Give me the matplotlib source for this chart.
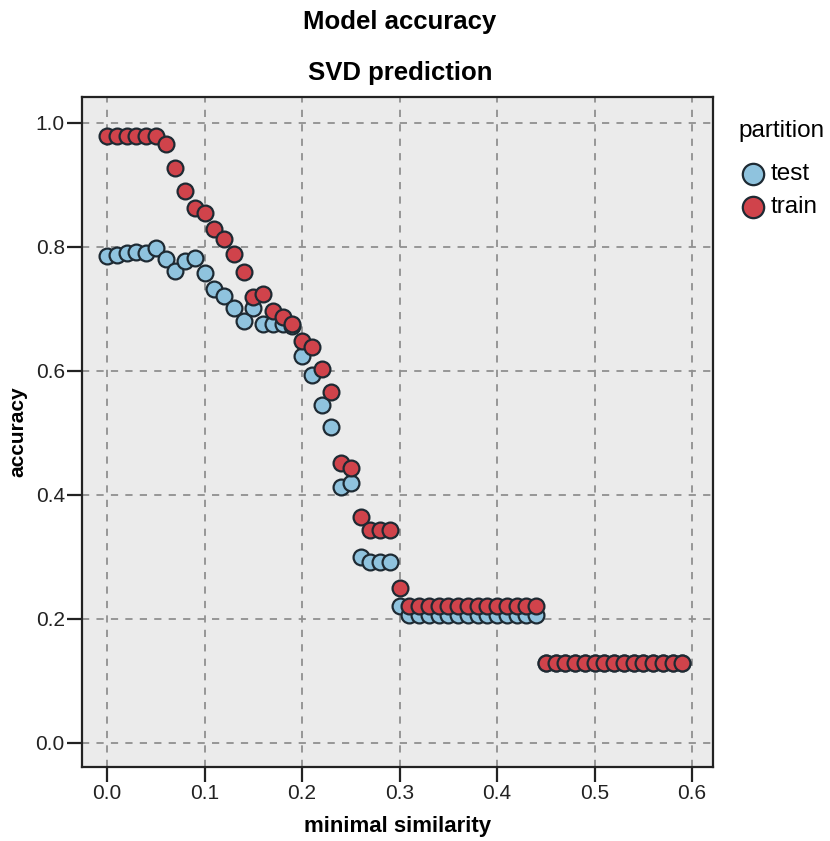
import numpy as np
import matplotlib
matplotlib.use("Agg")
from matplotlib import pyplot as plt

plt.rcParams['font.family'] = ['Liberation Sans', 'DejaVu Sans']

# minimal similarity threshold, steps of 0.01
sim = [round(i * 0.01, 2) for i in range(60)]

test_acc = [0.785, 0.787, 0.790, 0.792, 0.790, 0.798, 0.780, 0.761, 0.777, 0.782,
            0.757, 0.732, 0.721, 0.701, 0.681, 0.701, 0.676, 0.676, 0.676, 0.672,
            0.624, 0.594, 0.545, 0.510, 0.413, 0.419, 0.300, 0.292, 0.292, 0.292,
            0.221, 0.207, 0.207, 0.207, 0.207, 0.207, 0.207, 0.207, 0.207, 0.207,
            0.207, 0.207, 0.207, 0.207, 0.207,
            0.129, 0.129, 0.129, 0.129, 0.129, 0.129, 0.129, 0.129, 0.129, 0.129,
            0.129, 0.129, 0.129, 0.129, 0.129]

train_acc = [0.979, 0.979, 0.979, 0.979, 0.979, 0.979, 0.966, 0.927, 0.890, 0.863,
             0.855, 0.829, 0.813, 0.789, 0.760, 0.719, 0.724, 0.697, 0.687, 0.676,
             0.648, 0.639, 0.603, 0.566, 0.452, 0.444, 0.365, 0.344, 0.344, 0.344,
             0.250, 0.221, 0.221, 0.221, 0.221, 0.221, 0.221, 0.221, 0.221, 0.221,
             0.221, 0.221, 0.221, 0.221, 0.221,
             0.129, 0.129, 0.129, 0.129, 0.129, 0.129, 0.129, 0.129, 0.129, 0.129,
             0.129, 0.129, 0.129, 0.129, 0.129]

fig = plt.figure(figsize=(8.3, 8.41), dpi=100)
ax = fig.add_axes([0.099, 0.088, 0.760, 0.797])
ax.set_facecolor('#ebebeb')

edge = '#1e2a33'
ax.scatter(sim, test_acc, s=130, c='#8fc3de', edgecolors=edge, linewidths=1.6,
           label='test', zorder=3)
ax.scatter(sim, train_acc, s=130, c='#d0434b', edgecolors=edge, linewidths=1.6,
           label='train', zorder=4)

ax.set_xlim(-0.0256, 0.6215)
ax.set_ylim(-0.0387, 1.042)
ax.set_xticks([0.0, 0.1, 0.2, 0.3, 0.4, 0.5, 0.6])
ax.set_yticks([0.0, 0.2, 0.4, 0.6, 0.8, 1.0])
ax.set_xticklabels(['0.0', '0.1', '0.2', '0.3', '0.4', '0.5', '0.6'])
ax.set_yticklabels(['0.0', '0.2', '0.4', '0.6', '0.8', '1.0'])
ax.grid(True, color='#909090', linestyle=(0, (4, 4)), linewidth=1.3)
ax.set_axisbelow(True)

for sp in ax.spines.values():
    sp.set_linewidth(1.6)
    sp.set_color('#222222')
ax.tick_params(direction='out', length=11, width=1.6, labelsize=15, colors='#222222', pad=1.5)

ax.set_xlabel('minimal similarity', fontsize=16, fontweight='bold', labelpad=9)
ax.set_ylabel('accuracy', fontsize=15, fontweight='bold', labelpad=6)

fig.text(0.482, 0.974, 'Model accuracy', ha='center', va='center', fontsize=18.5, fontweight='bold')
fig.text(0.482, 0.913, 'SVD prediction', ha='center', va='center', fontsize=18.5, fontweight='bold')

# legend title drawn separately so the gap matches
fig.text(738 / 830, 1 - 131 / 841, 'partition', ha='left', va='center', fontsize=17.5)
leg = ax.legend(loc='upper left', bbox_to_anchor=(741 / 830, 1 - 163 / 841), bbox_transform=fig.transFigure,
                frameon=False, fontsize=17.5, borderpad=0, handlelength=1.0,
                handletextpad=0.2, borderaxespad=0, labelspacing=0.45, markerscale=1.35)

fig.savefig('out.png', dpi=100)
